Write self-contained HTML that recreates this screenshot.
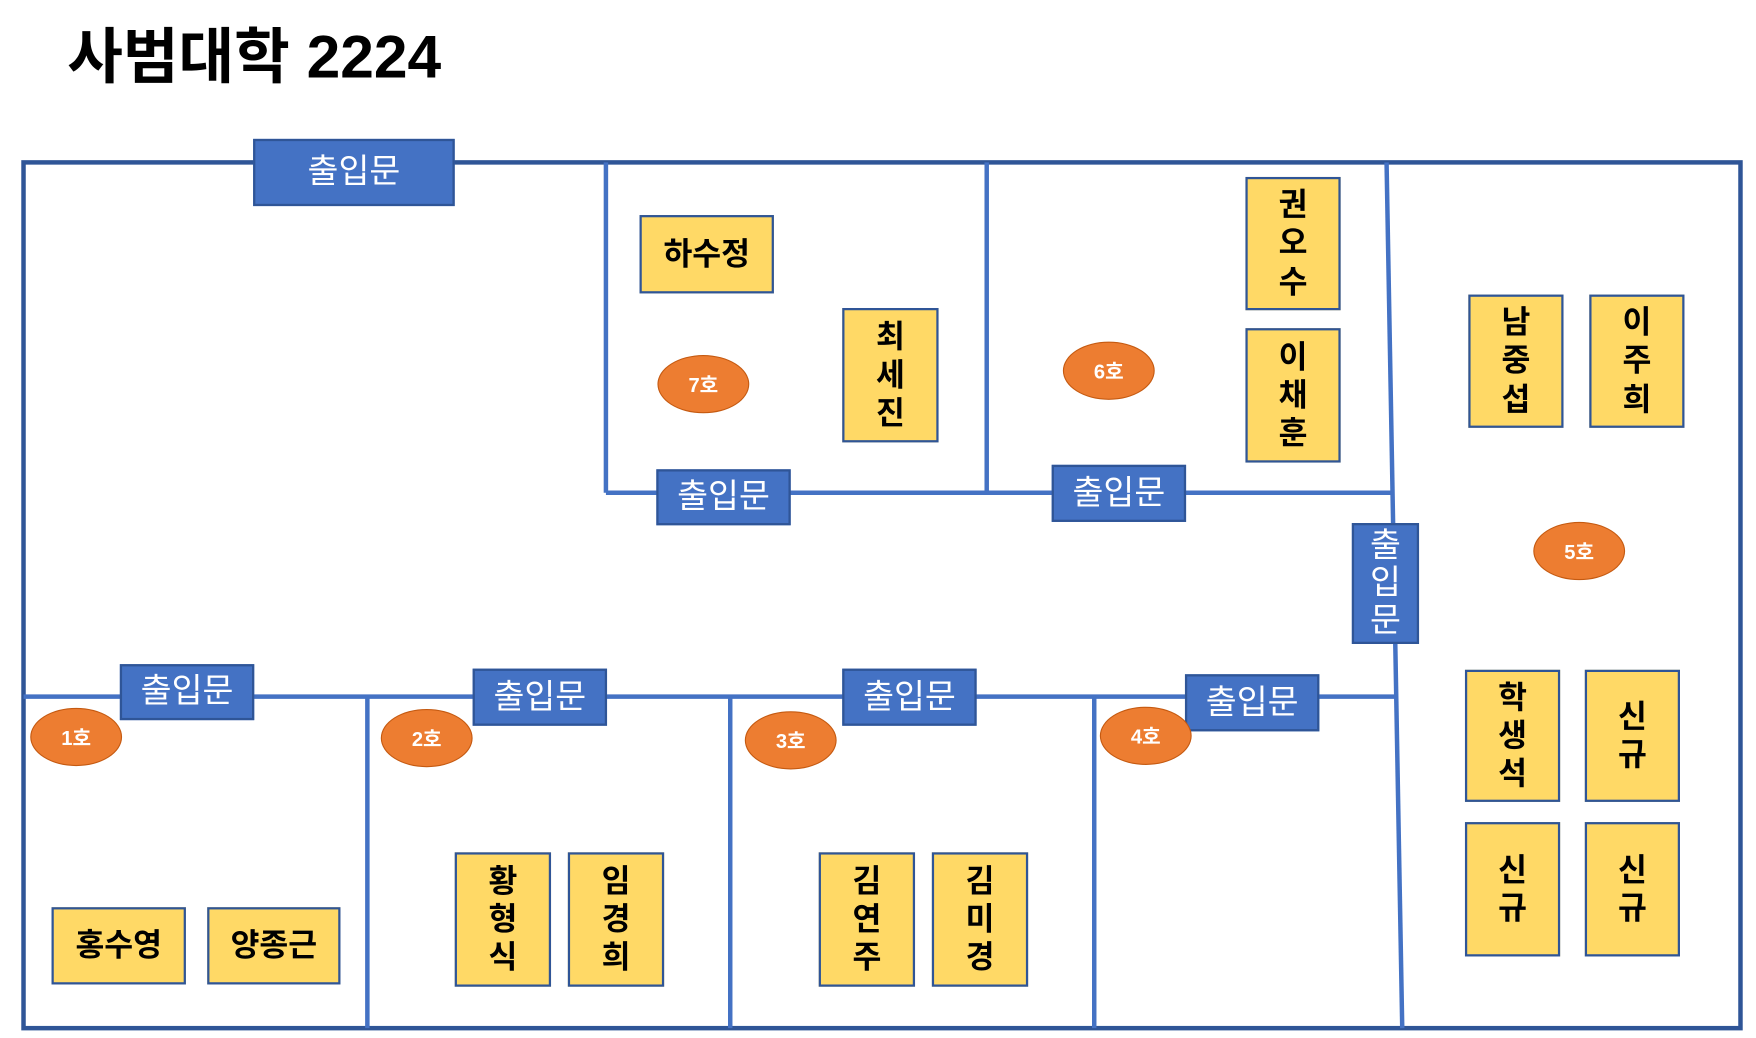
<!DOCTYPE html>
<html><head><meta charset="utf-8"><style>
html,body{margin:0;padding:0;background:#fff;width:1756px;height:1038px;overflow:hidden}
#w{position:absolute;left:0;top:0;width:1568px;height:927px;transform:scale(1.12);transform-origin:0 0;font-family:"Liberation Sans","Noto Sans CJK KR",sans-serif}
.t{position:absolute;left:60px;top:6px;font-size:54px;font-weight:bold;color:#000}
.d{position:absolute;background:#4472C4;border:2px solid #2F5597;box-sizing:border-box;color:#fff;font-size:30px;display:flex;align-items:center;justify-content:center;line-height:1.12;text-align:center}
.y{position:absolute;background:#FFD966;border:2px solid #2F5597;box-sizing:border-box;color:#000;font-size:28px;font-weight:bold;display:flex;align-items:center;justify-content:center;line-height:1.22;text-align:center}
.o{position:absolute;width:82px;height:52px;border-radius:50%;background:#ED7D31;border:1.5px solid #C55A11;box-sizing:border-box;color:#fff;font-size:18px;font-weight:bold;display:flex;align-items:center;justify-content:center}
svg{position:absolute;left:0;top:0}
</style></head><body><div id="w">
<div class="t">사범대학 2224</div>
<svg width="1568" height="927">
<rect x="21" y="145" width="1533" height="773" fill="none" stroke="#2F5597" stroke-width="4"/>
<g stroke="#4472C4" stroke-width="4" fill="none">
<line x1="541" y1="145" x2="541" y2="440"/>
<line x1="541" y1="440" x2="1243" y2="440"/>
<line x1="881" y1="145" x2="881" y2="440"/>
<line x1="1238" y1="145" x2="1252" y2="918"/>
<line x1="21" y1="622" x2="1246" y2="622"/>
<line x1="328" y1="622" x2="328" y2="918"/>
<line x1="652" y1="622" x2="652" y2="918"/>
<line x1="977" y1="622" x2="977" y2="918"/>
</g>
</svg>
<div class="d" style="left:226px;top:124px;width:180px;height:60px">출입문</div>
<div class="d" style="left:586px;top:419px;width:120px;height:50px">출입문</div>
<div class="d" style="left:939px;top:415px;width:120px;height:51px">출입문</div>
<div class="d" style="left:1207px;top:467px;width:60px;height:108px">출<br>입<br>문</div>
<div class="d" style="left:107px;top:593px;width:120px;height:50px">출입문</div>
<div class="d" style="left:422px;top:597px;width:120px;height:51px">출입문</div>
<div class="d" style="left:752px;top:597px;width:120px;height:51px">출입문</div>
<div class="d" style="left:1058px;top:602px;width:120px;height:51px">출입문</div>

<div class="y" style="left:571px;top:192px;width:120px;height:70px">하수정</div>
<div class="y" style="left:752px;top:275px;width:86px;height:120px">최<br>세<br>진</div>
<div class="y" style="left:1112px;top:158px;width:85px;height:119px">권<br>오<br>수</div>
<div class="y" style="left:1112px;top:293px;width:85px;height:120px">이<br>채<br>훈</div>
<div class="y" style="left:1311px;top:263px;width:85px;height:119px">남<br>중<br>섭</div>
<div class="y" style="left:1419px;top:263px;width:85px;height:119px">이<br>주<br>희</div>
<div class="y" style="left:1308px;top:598px;width:85px;height:118px">학<br>생<br>석</div>
<div class="y" style="left:1415px;top:598px;width:85px;height:118px">신<br>규</div>
<div class="y" style="left:1308px;top:734px;width:85px;height:120px">신<br>규</div>
<div class="y" style="left:1415px;top:734px;width:85px;height:120px">신<br>규</div>
<div class="y" style="left:46px;top:810px;width:120px;height:69px">홍수영</div>
<div class="y" style="left:185px;top:810px;width:119px;height:69px">양종근</div>
<div class="y" style="left:406px;top:761px;width:86px;height:120px">황<br>형<br>식</div>
<div class="y" style="left:507px;top:761px;width:86px;height:120px">임<br>경<br>희</div>
<div class="y" style="left:731px;top:761px;width:86px;height:120px">김<br>연<br>주</div>
<div class="y" style="left:832px;top:761px;width:86px;height:120px">김<br>미<br>경</div>

<div class="o" style="left:587px;top:317px">7호</div>
<div class="o" style="left:949px;top:305px">6호</div>
<div class="o" style="left:1369px;top:466px">5호</div>
<div class="o" style="left:27px;top:632px">1호</div>
<div class="o" style="left:340px;top:633px">2호</div>
<div class="o" style="left:665px;top:635px">3호</div>
<div class="o" style="left:982px;top:631px">4호</div>
</div></body></html>
